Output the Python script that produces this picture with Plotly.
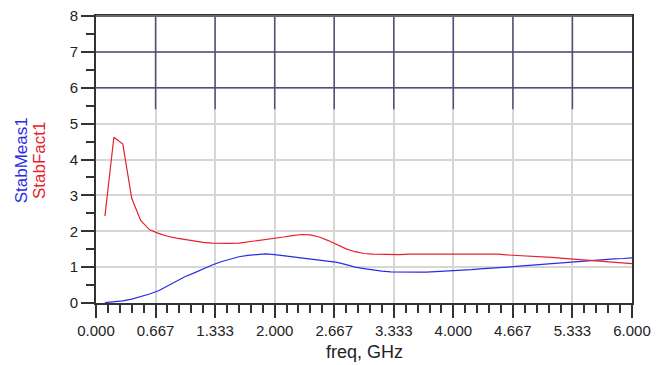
import plotly.graph_objects as go

# ---- data ----
freq_ghz = [round(0.1 * i, 1) for i in range(1, 61)]

stab_fact1 = [
    2.42, 4.62, 4.43, 2.92, 2.30, 2.04, 1.94, 1.86, 1.81, 1.77,
    1.72, 1.69, 1.67, 1.66, 1.66, 1.67, 1.70, 1.74, 1.77, 1.80,
    1.84, 1.88, 1.91, 1.90, 1.84, 1.74, 1.62, 1.51, 1.43, 1.38,
    1.36, 1.35, 1.35, 1.35, 1.36, 1.36, 1.37, 1.37, 1.37, 1.37,
    1.37, 1.37, 1.37, 1.37, 1.36, 1.34, 1.33, 1.31, 1.30, 1.28,
    1.27, 1.25, 1.23, 1.21, 1.19, 1.18, 1.16, 1.14, 1.12, 1.10,
]

stab_meas1 = [
    0.01, 0.03, 0.06, 0.11, 0.17, 0.25, 0.34, 0.47, 0.60, 0.74,
    0.84, 0.96, 1.06, 1.15, 1.22, 1.29, 1.33, 1.36, 1.37, 1.35,
    1.32, 1.29, 1.27, 1.24, 1.21, 1.17, 1.13, 1.07, 1.00, 0.96,
    0.92, 0.89, 0.87, 0.86, 0.86, 0.86, 0.86, 0.87, 0.88, 0.90,
    0.91, 0.93, 0.95, 0.96, 0.98, 1.00, 1.02, 1.04, 1.06, 1.08,
    1.10, 1.12, 1.14, 1.16, 1.18, 1.19, 1.21, 1.23, 1.24, 1.26,
]

x_tick_vals = [0, 2/3, 4/3, 2, 8/3, 10/3, 4, 14/3, 16/3, 6]
x_tick_text = ["0.000", "0.667", "1.333", "2.000", "2.667",
               "3.333", "4.000", "4.667", "5.333", "6.000"]
y_tick_vals = [0, 1, 2, 3, 4, 5, 6, 7, 8]

RED = "#e8202c"
BLUE = "#2b2be6"
DARK_GRID = "#4f4f7c"
FONT = "Liberation Sans, Arial, sans-serif"

fig = go.Figure()
fig.add_trace(go.Scatter(x=freq_ghz, y=stab_meas1, mode="lines",
                         line=dict(color=BLUE, width=1.2), name="StabMeas1"))
fig.add_trace(go.Scatter(x=freq_ghz, y=stab_fact1, mode="lines",
                         line=dict(color=RED, width=1.2), name="StabFact1"))

# dark grid in upper band
shapes = []
for xv in x_tick_vals[1:-1]:
    shapes.append(dict(type="line", xref="x", yref="y", x0=xv, x1=xv, y0=5.4, y1=8,
                       line=dict(color=DARK_GRID, width=1.5)))
for yv in [6, 7]:
    shapes.append(dict(type="line", xref="x", yref="y", x0=0, x1=6, y0=yv, y1=yv,
                       line=dict(color=DARK_GRID, width=1.5)))
# top border (gray)
shapes.append(dict(type="line", xref="paper", yref="paper", x0=0, x1=1, y0=1, y1=1,
                   line=dict(color="#6a6a6a", width=2)))

# page body has an 8px default margin, so the figure is sized to fit inside it
fig.update_layout(
    width=660, height=357,
    margin=dict(l=88, r=36, t=7.5, b=62, autoexpand=False),
    paper_bgcolor="white", plot_bgcolor="white",
    showlegend=False,
    font=dict(family=FONT, size=14, color="#222"),
    shapes=shapes,
    xaxis=dict(
        range=[0, 6], tickvals=x_tick_vals, ticktext=x_tick_text,
        showgrid=True, gridcolor="#d6d6d6", gridwidth=1.5,
        showline=True, linecolor="#333", linewidth=2, mirror=True,
        ticks="outside", ticklen=13, tickcolor="#333", tickwidth=1.5,
        minor=dict(dtick=2/15, tick0=0, ticks="outside", ticklen=8,
                   tickcolor="#333", tickwidth=1.5, showgrid=False),
        zeroline=False, automargin=False, ticklabeloverflow="allow",
        tickfont=dict(size=15, color="#222"),
    ),
    yaxis=dict(
        range=[0, 8], tickvals=y_tick_vals,
        showgrid=True, gridcolor="#d6d6d6", gridwidth=1.5,
        showline=True, linecolor="#333", linewidth=2, mirror=True,
        ticks="outside", ticklen=13, tickcolor="#333", tickwidth=1.5,
        minor=dict(dtick=0.5, tick0=0, ticks="outside", ticklen=8,
                   tickcolor="#333", tickwidth=1.5, showgrid=False),
        zeroline=False, automargin=False, ticklabeloverflow="allow",
        tickfont=dict(size=15, color="#222"),
    ),
    annotations=[
        dict(text="freq, GHz", xref="paper", yref="paper", x=0.5, y=-0.17,
             xanchor="center", yanchor="middle", showarrow=False,
             font=dict(size=18, color="#222", family=FONT)),
        dict(text="StabMeas1", xref="paper", x=-0.14, xanchor="center",
             yref="paper", y=0.497, yanchor="middle", textangle=-90, showarrow=False,
             font=dict(size=17, color=BLUE, family=FONT)),
        dict(text="StabFact1", xref="paper", x=-0.105, xanchor="center",
             yref="paper", y=0.497, yanchor="middle", textangle=-90, showarrow=False,
             font=dict(size=17, color=RED, family=FONT)),
    ],
)

fig.write_html("out.html")
